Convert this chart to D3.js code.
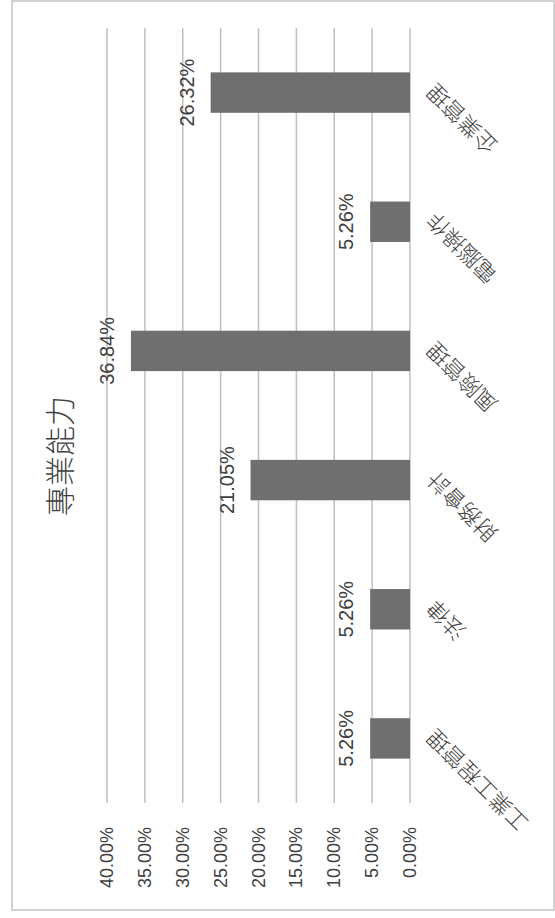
<!DOCTYPE html>
<html>
<head>
<meta charset="utf-8">
<script src="https://cdn.jsdelivr.net/npm/d3@7"></script>
<style>
  body { margin: 0; background: #fff; }
</style>
</head>
<body>
<script>
// chart data
const categories = ['工業工程管理', '法律', '財務會計', '風險管理', '電腦操作', '企業管理']
const values = [5.26, 5.26, 21.05, 36.84, 5.26, 26.32]
const ticks = [0, 5, 10, 15, 20, 25, 30, 35, 40]
const title = '專業能力'

const width = 555
const height = 918

const svg = d3.select('body').append('svg').attr('width', width).attr('height', height)

// the whole chart is drawn upright and then turned a quarter turn left
const g = svg.append('g').attr('transform', 'translate(0,' + height + ') rotate(-90)')

// outer frame (original coords: x along the 918 side, y along the 555 side)
g.append('rect')
	.attr('x', 8).attr('y', 12)
	.attr('width', 909).attr('height', 542)
	.attr('fill', 'none')
	.attr('stroke', '#c4c4c4')
	.attr('stroke-width', 1.5)

const x = d3.scaleBand().domain(categories).range([115, 890]).paddingInner(0.687).paddingOuter(0.3435)
const y = d3.scaleLinear().domain([0, 40]).range([410, 107])

// gridlines
g.append('g').selectAll('line')
	.data(ticks)
	.enter()
	.append('line')
	.attr('x1', 115).attr('x2', 890)
	.attr('y1', d => y(d)).attr('y2', d => y(d))
	.attr('stroke', '#c0c0c0')
	.attr('stroke-width', 1.5)

// value axis labels
g.append('g').selectAll('text')
	.data(ticks)
	.enter()
	.append('text')
	.attr('x', 91)
	.attr('y', d => y(d))
	.attr('text-anchor', 'end')
	.attr('dominant-baseline', 'central')
	.attr('font-family', 'Liberation Sans, Arial, sans-serif')
	.attr('font-size', 18)
	.attr('fill', '#404040')
	.text(d => d.toFixed(2) + '%')

// bars
g.append('g').selectAll('rect')
	.data(values)
	.enter()
	.append('rect')
	.attr('x', (d, i) => x(categories[i]))
	.attr('y', d => y(d))
	.attr('width', x.bandwidth())
	.attr('height', d => y(0) - y(d))
	.attr('fill', '#6f6f6f')

// data labels
g.append('g').selectAll('text')
	.data(values)
	.enter()
	.append('text')
	.attr('x', (d, i) => x(categories[i]) + x.bandwidth() / 2)
	.attr('y', d => y(d) - 24)
	.attr('text-anchor', 'middle')
	.attr('dominant-baseline', 'central')
	.attr('font-family', 'Liberation Sans, Arial, sans-serif')
	.attr('font-size', 20)
	.attr('fill', '#404040')
	.text(d => d.toFixed(2) + '%')

// category labels, turned 45 degrees
g.append('g').selectAll('text')
	.data(categories)
	.enter()
	.append('text')
	.attr('transform', d => 'translate(' + (x(d) + x.bandwidth() / 2 - 2) + ',424) rotate(-45)')
	.attr('text-anchor', 'end')
	.attr('dy', '0.8em')
	.attr('font-family', 'Noto Sans CJK TC, sans-serif')
	.attr('font-weight', 300)
	.attr('font-size', 22)
	.attr('fill', '#404040')
	.text(d => d)

// title
g.append('text')
	.attr('x', 462)
	.attr('y', 58)
	.attr('text-anchor', 'middle')
	.attr('dominant-baseline', 'central')
	.attr('font-family', 'Noto Sans CJK TC, sans-serif')
	.attr('font-weight', 300)
	.attr('font-size', 30)
	.attr('fill', '#404040')
	.text(title)
</script>
</body>
</html>
